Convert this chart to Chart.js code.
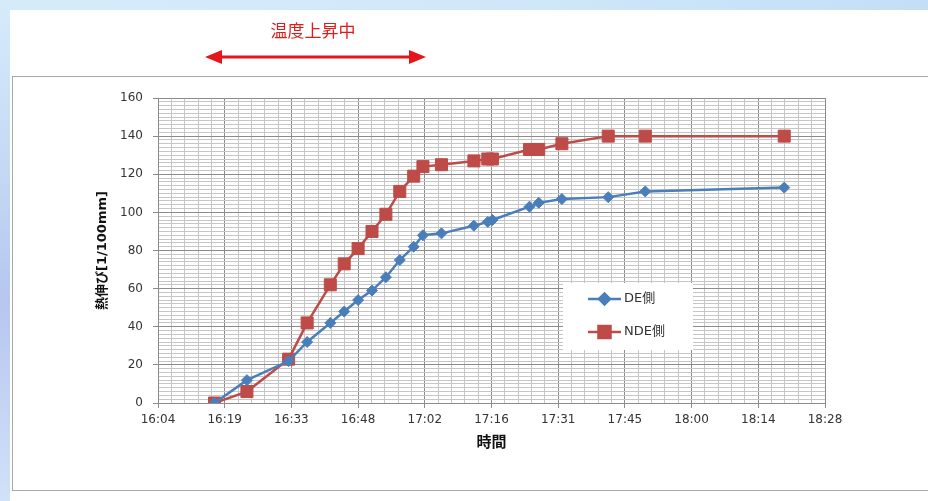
<!DOCTYPE html>
<html>
<head>
<meta charset="utf-8">
<script src="https://cdn.jsdelivr.net/npm/chart.js@4.4.1/dist/chart.umd.min.js"></script>
<style>
  html, body { margin: 0; padding: 0; width: 928px; height: 501px; overflow: hidden; background: #fff; }
  #wrap { position: relative; width: 928px; height: 501px; }
  #c { position: absolute; left: 0; top: 0; }
  #note {
    position: absolute; left: 253px; top: 18px; width: 120px; text-align: center;
    font: 17px "Noto Sans CJK JP", sans-serif; color: #dd1c1c; line-height: 24px;
  }
</style>
</head>
<body>
<div id="wrap">
  <canvas id="c" width="928" height="501"></canvas>
  <div id="note">温度上昇中</div>
</div>
<script>
// Measurement times (h:mm) and thermal elongation readings [1/100 mm]
const times = ['16:17','16:24','16:33','16:37','16:42','16:45','16:48','16:51','16:54','16:57','17:00',
               '17:02','17:06','17:13','17:16','17:17','17:25','17:27','17:32','17:42','17:50','18:20'];
const deValues  = [0, 12, 22, 32, 42, 48, 54, 59, 66, 75, 82, 88, 89, 93, 95, 96, 103, 105, 107, 108, 111, 113];
const ndeValues = [0, 6, 23, 42, 62, 73, 81, 90, 99, 111, 119, 124, 125, 127, 128, 128, 133, 133, 136, 140, 140, 140];
const seriesNames = ['DE側', 'NDE側'];

// Axis range in fractions of a day, as in a spreadsheet time axis
const xTickLabels = ['16:04','16:19','16:33','16:48','17:02','17:16','17:31','17:45','18:00','18:14','18:28'];
const xMin = 0.67, xMax = 0.77, xMajor = 0.01, xMinor = 0.002;
const yTickLabels = ['0','20','40','60','80','100','120','140','160'];
const yMin = 0, yMax = 160, yMajor = 20, yMinor = 2;

const toDay = t => { const [h, m] = t.split(':').map(Number); return (h * 60 + m) / 1440; };
const points = vals => vals.map((v, i) => ({ x: toDay(times[i]), y: v }));

const xIndex = v => Math.round((v - xMin) / xMinor);
const xIsMajor = v => xIndex(v) % Math.round(xMajor / xMinor) === 0;
const yIsMajor = v => Math.round(v / yMinor) % Math.round(yMajor / yMinor) === 0;

const MAJOR = '#8c8c8c', MINOR = '#c6c6c6';
const TICK_FONT = { family: '"DejaVu Sans", "Noto Sans CJK JP"', size: 12 };

// Page backdrop, chart frame, the heating-period arrow and the inset legend
const decor = {
  id: 'decor',
  beforeDraw(chart) {
    const ctx = chart.ctx;
    ctx.save();
    ctx.fillStyle = '#ffffff';
    ctx.fillRect(0, 0, 928, 501);
    const gTop = ctx.createLinearGradient(0, 0, 928, 0);
    gTop.addColorStop(0, '#d6ebfa');
    gTop.addColorStop(0.5, '#d2e8f9');
    gTop.addColorStop(1, '#c4def6');
    ctx.fillStyle = gTop;
    ctx.fillRect(0, 0, 928, 10);
    const gLeft = ctx.createLinearGradient(0, 0, 0, 501);
    gLeft.addColorStop(0, '#d6ebfa');
    gLeft.addColorStop(0.35, '#c4d8f4');
    gLeft.addColorStop(0.6, '#b6c6ef');
    gLeft.addColorStop(1, '#cfe2f8');
    ctx.fillStyle = gLeft;
    ctx.fillRect(0, 0, 10, 501);
    ctx.strokeStyle = '#a8a8a8';
    ctx.lineWidth = 1;
    ctx.strokeRect(12.5, 76.5, 940, 414);
    ctx.restore();
  },
  afterDatasetsDraw(chart) {
    const ctx = chart.ctx;
    ctx.save();
    ctx.fillStyle = '#ffffff';
    ctx.fillRect(563, 283, 130, 67);
    const rows = [299, 332];
    chart.data.datasets.forEach((ds, i) => {
      const y = rows[i];
      ctx.strokeStyle = ds.borderColor;
      ctx.lineWidth = ds.borderWidth;
      ctx.beginPath();
      ctx.moveTo(588, y);
      ctx.lineTo(621, y);
      ctx.stroke();
      ctx.fillStyle = ds.pointBackgroundColor;
      ctx.strokeStyle = ds.pointBorderColor;
      Chart.helpers.drawPoint(ctx, {
        pointStyle: ds.pointStyle, radius: ds.pointRadius, borderWidth: 1, rotation: 0
      }, 604.5, y);
      ctx.fillStyle = '#333333';
      ctx.font = '13px "DejaVu Sans", "Noto Sans CJK JP"';
      ctx.textBaseline = 'middle';
      ctx.textAlign = 'left';
      ctx.fillText(ds.label, 624, y);
    });
    ctx.restore();
  },
  afterDraw(chart) {
    const ctx = chart.ctx;
    const y = 57, x0 = 205, x1 = 426, head = 17, half = 7;
    ctx.save();
    ctx.strokeStyle = '#e8141b';
    ctx.fillStyle = '#e8141b';
    ctx.lineWidth = 3;
    ctx.beginPath();
    ctx.moveTo(x0 + head - 1, y);
    ctx.lineTo(x1 - head + 1, y);
    ctx.stroke();
    ctx.beginPath();
    ctx.moveTo(x0, y); ctx.lineTo(x0 + head, y - half); ctx.lineTo(x0 + head, y + half); ctx.closePath();
    ctx.fill();
    ctx.beginPath();
    ctx.moveTo(x1, y); ctx.lineTo(x1 - head, y - half); ctx.lineTo(x1 - head, y + half); ctx.closePath();
    ctx.fill();
    ctx.restore();
  }
};

new Chart(document.getElementById('c'), {
  type: 'line',
  data: {
    datasets: [
      {
        label: seriesNames[0],
        data: points(deValues),
        borderColor: '#4a7ebb',
        backgroundColor: '#4a7ebb',
        borderWidth: 2.5,
        pointStyle: 'rectRot',
        pointRadius: 5.5,
        pointBackgroundColor: '#4a7ebb',
        pointBorderColor: '#4a7ebb',
        pointBorderWidth: 1,
        tension: 0
      },
      {
        label: seriesNames[1],
        data: points(ndeValues),
        borderColor: '#be4b48',
        backgroundColor: '#be4b48',
        borderWidth: 2.5,
        pointStyle: 'rect',
        pointRadius: 8.5,
        pointBackgroundColor: '#be4b48',
        pointBorderColor: '#be4b48',
        pointBorderWidth: 1,
        tension: 0
      }
    ]
  },
  options: {
    responsive: false,
    animation: false,
    devicePixelRatio: 1,
    layout: { padding: { left: 12, right: 103, top: 98, bottom: 0 } },
    plugins: { legend: { display: false }, tooltip: { enabled: false } },
    scales: {
      x: {
        type: 'linear',
        min: xMin, max: xMax,
        afterFit: s => { s.height = 98; },
        ticks: {
          stepSize: xMinor, autoSkip: false, maxRotation: 0, minRotation: 0,
          padding: 5, color: '#333333', font: TICK_FONT,
          callback: v => xIsMajor(v) ? xTickLabels[Math.round(xIndex(v) / 5)] : ''
        },
        grid: {
          color: c => (c.tick && xIsMajor(c.tick.value)) ? MAJOR : MINOR,
          tickColor: c => (c.tick && xIsMajor(c.tick.value)) ? MAJOR : 'rgba(0,0,0,0)',
          tickLength: 5, lineWidth: 1
        },
        border: { color: MAJOR },
        title: {
          display: true, text: '時間', color: '#111111',
          font: { family: '"DejaVu Sans", "Noto Sans CJK JP"', size: 15, weight: 'bold' },
          padding: { top: 0, bottom: 49 }
        }
      },
      y: {
        min: yMin, max: yMax,
        afterFit: s => { s.width = 146; },
        ticks: {
          stepSize: yMinor, autoSkip: false, padding: 10, color: '#333333', font: TICK_FONT,
          callback: v => yIsMajor(v) ? yTickLabels[Math.round(v / yMajor)] : ''
        },
        grid: {
          color: c => (c.tick && yIsMajor(c.tick.value)) ? MAJOR : MINOR,
          tickColor: c => (c.tick && yIsMajor(c.tick.value)) ? MAJOR : 'rgba(0,0,0,0)',
          tickLength: 5, lineWidth: 1
        },
        border: { color: MAJOR },
        title: {
          display: true, text: '熱伸び[1/100mm]', color: '#111111',
          font: { family: '"DejaVu Sans", "Noto Sans CJK JP"', size: 13, weight: 'bold' },
          padding: { top: 83, bottom: 0 }
        }
      }
    }
  },
  plugins: [decor]
});
</script>
</body>
</html>
